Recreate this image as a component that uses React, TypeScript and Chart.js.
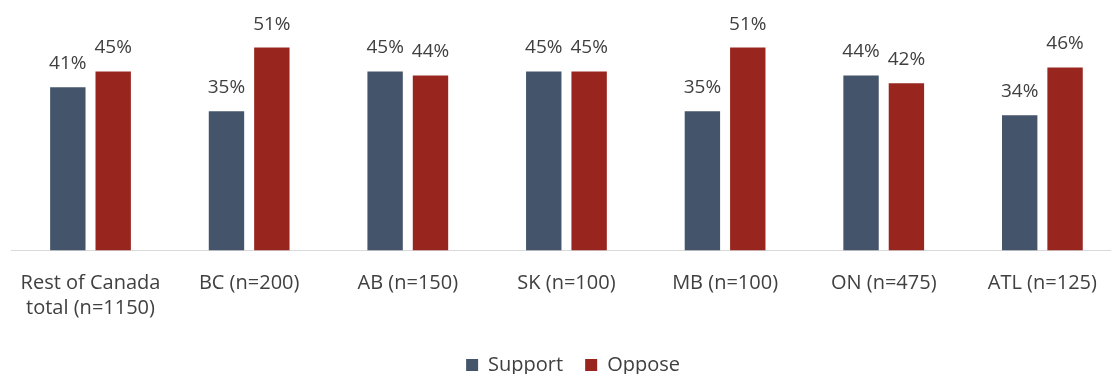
import React, { useEffect, useRef } from "react";
import { Chart, registerables } from "chart.js";

Chart.register(...registerables);

// Regions surveyed, with sample sizes
const categories: (string | string[])[] = [
  ["Rest of Canada", "total (n=1150)"],
  "BC (n=200)",
  "AB (n=150)",
  "SK (n=100)",
  "MB (n=100)",
  "ON (n=475)",
  "ATL (n=125)",
];

// Share of respondents (%)
const supportValues = [41, 35, 45, 45, 35, 44, 34];
const opposeValues = [45, 51, 44, 45, 51, 42, 46];

const seriesNames = ["Support", "Oppose"];

const supportColor = "#44546A";
const opposeColor = "#98261F";
const textColor = "#404040";
const fontFamily = "'Open Sans', sans-serif";

// Writes each bar's percentage just above it
const valueLabels = {
  id: "valueLabels",
  afterDatasetsDraw(chart: any) {
    const { ctx } = chart;
    ctx.save();
    ctx.font = `19px ${fontFamily}`;
    ctx.fillStyle = textColor;
    ctx.textAlign = "center";
    ctx.textBaseline = "alphabetic";
    chart.data.datasets.forEach((ds: any, di: number) => {
      const meta = chart.getDatasetMeta(di);
      meta.data.forEach((bar: any, i: number) => {
        ctx.fillText(`${ds.data[i]}%`, bar.x, bar.y - 18);
      });
    });
    ctx.restore();
  },
};

// Nudges the legend row sideways after layout
const legendOffset = {
  id: "legendOffset",
  afterLayout(chart: any, _args: any, opts: any) {
    const lg = chart.legend;
    if (!lg) return;
    lg.left += opts.dx || 0;
    lg.right += opts.dx || 0;
  },
};

export default function App() {
  const ref = useRef<HTMLCanvasElement>(null);

  useEffect(() => {
    const chart = new Chart(ref.current as HTMLCanvasElement, {
      type: "bar",
      data: {
        labels: categories,
        datasets: [
          { label: seriesNames[0], data: supportValues, backgroundColor: supportColor },
          { label: seriesNames[1], data: opposeValues, backgroundColor: opposeColor },
        ],
      },
      options: {
        responsive: false,
        animation: false,
        layout: { padding: { left: 8.4, right: 8.3, top: 11.7, bottom: 20 } },
        datasets: { bar: { categoryPercentage: 0.572, barPercentage: 0.78 } },
        scales: {
          x: {
            grid: { display: false, drawTicks: false },
            border: { display: true, color: "#D9D9D9", width: 1 },
            ticks: {
              color: textColor,
              font: { family: fontFamily, size: 20, lineHeight: 1.27 },
              padding: 20,
              autoSkip: false,
              maxRotation: 0,
            },
            afterFit: (s: any) => {
              s.height = 82.5;
            },
          },
          y: { display: false, min: 0, max: 60 },
        },
        plugins: {
          legend: {
            position: "bottom",
            labels: {
              color: textColor,
              font: { family: fontFamily, size: 20 },
              boxWidth: 12,
              boxHeight: 12,
              padding: 22,
            },
          },
          tooltip: { enabled: false },
          legendOffset: { dx: 8 },
        } as any,
      },
      plugins: [valueLabels, legendOffset],
    });
    return () => chart.destroy();
  }, []);

  return (
    <div
      style={{
        position: "fixed",
        left: 0,
        top: 0,
        width: 1111,
        height: 374,
        overflow: "hidden",
        background: "#fff",
      }}
    >
      <canvas ref={ref} width={1130} height={405} style={{ display: "block" }} />
    </div>
  );
}
